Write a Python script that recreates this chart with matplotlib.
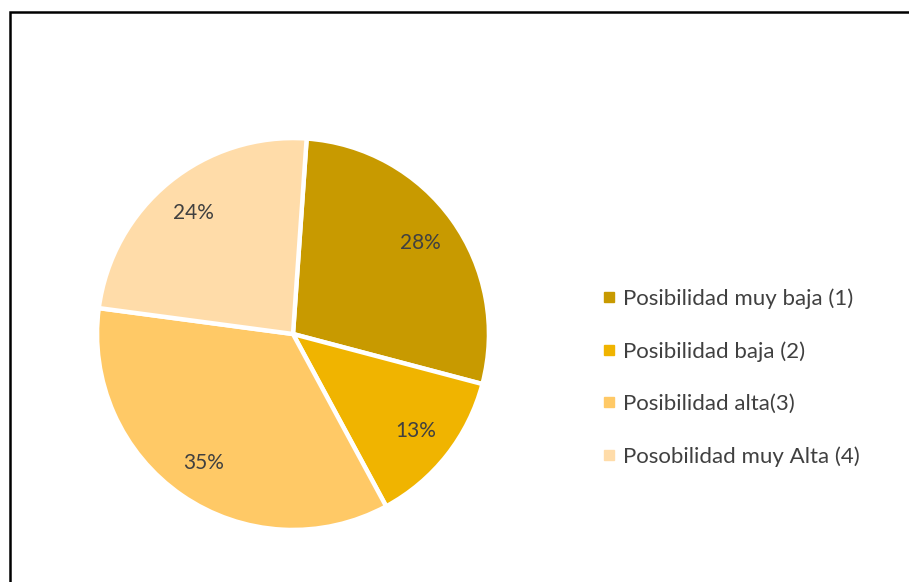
import matplotlib
matplotlib.use("Agg")
import matplotlib.pyplot as plt
from matplotlib.patches import Rectangle
from matplotlib.lines import Line2D

categories = ["Posibilidad muy baja (1)", "Posibilidad baja (2)",
              "Posibilidad alta(3)", "Posobilidad muy Alta (4)"]
values = [28, 13, 35, 24]
colors = ["#C89A00", "#F0B400", "#FFC966", "#FFDCA9"]

plt.rcParams["font.family"] = ["Lato", "DejaVu Sans"]
text_color = "#404040"

fig = plt.figure(figsize=(9.09, 5.82), dpi=100)

# Outer chart frame
fig.patches.append(Rectangle((9.5 / 909, -0.1), 1.2, 1.1 - 11.5 / 582,
                             transform=fig.transFigure, fill=False,
                             edgecolor="black", linewidth=1.8, zorder=0))

ax = fig.add_axes([100 / 909, 55 / 582, 386 / 909, 386 / 582])
wedges, texts, autotexts = ax.pie(
    values, colors=colors, startangle=86, counterclock=False,
    autopct=lambda p: f"{p:.0f}%", pctdistance=0.8,
    wedgeprops=dict(edgecolor="white", linewidth=3.2),
    textprops=dict(color=text_color, fontsize=15))
ax.set_xlim(-0.985, 0.985)
ax.set_ylim(-0.985, 0.985)
ax.set_aspect("equal")

handles = [Line2D([], [], marker="s", linestyle="none", markersize=7,
                  markerfacecolor=c, markeredgecolor=c) for c in colors]
leg = fig.legend(handles, categories, loc="center left",
                 bbox_to_anchor=(601 / 909, 1 - 377.5 / 582),
                 frameon=False, fontsize=16, labelspacing=1.45,
                 handlelength=0.7, handletextpad=0.3, borderaxespad=0,
                 borderpad=0)
for t in leg.get_texts():
    t.set_color(text_color)

fig.savefig("out.png", dpi=100)
